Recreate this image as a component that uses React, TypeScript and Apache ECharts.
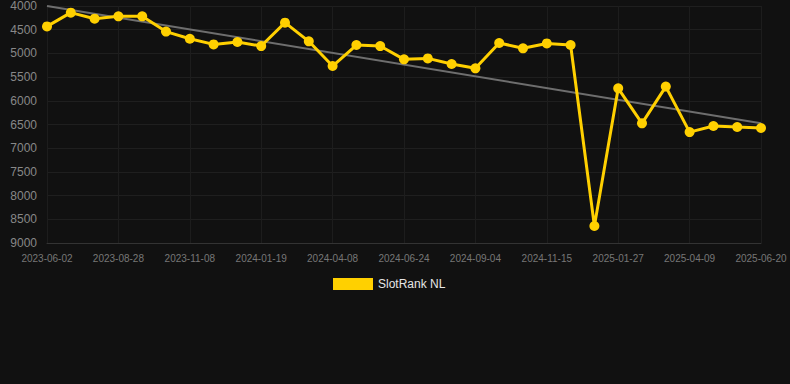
import React, { useEffect, useRef } from "react";
import * as echarts from "echarts";

const dates: string[] = [
  "2023-06-02", "2023-07-01", "2023-07-30", "2023-08-28", "2023-09-21", "2023-10-15",
  "2023-11-08", "2023-12-02", "2023-12-26", "2024-01-19", "2024-02-15", "2024-03-13",
  "2024-04-08", "2024-05-03", "2024-05-29", "2024-06-24", "2024-07-18", "2024-08-11",
  "2024-09-04", "2024-09-28", "2024-10-22", "2024-11-15", "2024-12-09", "2025-01-02",
  "2025-01-27", "2025-02-20", "2025-03-16", "2025-04-09", "2025-05-03", "2025-05-27",
  "2025-06-20",
];

const rankValues: number[] = [
  4430, 4140, 4268, 4218, 4218, 4540, 4690, 4810, 4760, 4845,
  4352, 4745, 5266, 4823, 4845, 5125, 5105, 5224, 5315, 4780,
  4893, 4790, 4823, 8642, 5737, 6475, 5700, 6660, 6532, 6553,
  6574,
];

const trendStart = 4000;
const trendEnd = 6475;

const seriesName = "SlotRank NL";

export default function App() {
  const ref = useRef<HTMLDivElement>(null);

  useEffect(() => {
    if (!ref.current) return;
    const chart = echarts.init(ref.current, null, { renderer: "svg" });
    const trendData = dates.map((_, i) =>
      i === 0 ? trendStart : i === dates.length - 1 ? trendEnd : null
    );
    chart.setOption({
      animation: false,
      backgroundColor: "#111111",
      textStyle: { fontFamily: "Arial, 'Liberation Sans', sans-serif" },
      grid: { left: 47, right: 29, top: 6, bottom: 141, containLabel: false },
      legend: {
        data: [seriesName],
        top: 273,
        left: 328,
        icon: "rect",
        itemWidth: 40,
        itemHeight: 12,
        itemGap: 10,
        textStyle: { color: "#e6e6e6", fontSize: 12 },
      },
      xAxis: {
        type: "category",
        boundaryGap: false,
        data: dates,
        axisLine: { show: true, lineStyle: { color: "#333333" } },
        axisTick: { show: false },
        axisLabel: {
          color: "#777777",
          fontSize: 10,
          interval: 2,
          margin: 10,
        },
        splitLine: { show: true, interval: 2, lineStyle: { color: "#1d1d1d" } },
      },
      yAxis: {
        type: "value",
        inverse: true,
        min: 4000,
        max: 9000,
        interval: 500,
        axisLine: { show: false },
        axisTick: { show: false },
        axisLabel: {
          color: "#888888",
          fontSize: 12,
          margin: 10,
          formatter: (v: number) => String(v),
        },
        splitLine: { show: true, lineStyle: { color: "#1f1f1f" } },
      },
      series: [
        {
          name: "Trend",
          type: "line",
          data: trendData,
          connectNulls: true,
          symbol: "none",
          lineStyle: { color: "#6e6e6e", width: 2 },
          itemStyle: { color: "#6e6e6e" },
          silent: true,
          z: 1,
        },
        {
          name: seriesName,
          type: "line",
          data: rankValues,
          symbol: "circle",
          symbolSize: 10,
          lineStyle: { color: "#FFD000", width: 3 },
          itemStyle: { color: "#FFD000" },
          z: 2,
        },
      ],
    });
    return () => chart.dispose();
  }, []);

  return (
    <div
      ref={ref}
      style={{ position: "fixed", left: 0, top: 0, width: 790, height: 384 }}
    />
  );
}
